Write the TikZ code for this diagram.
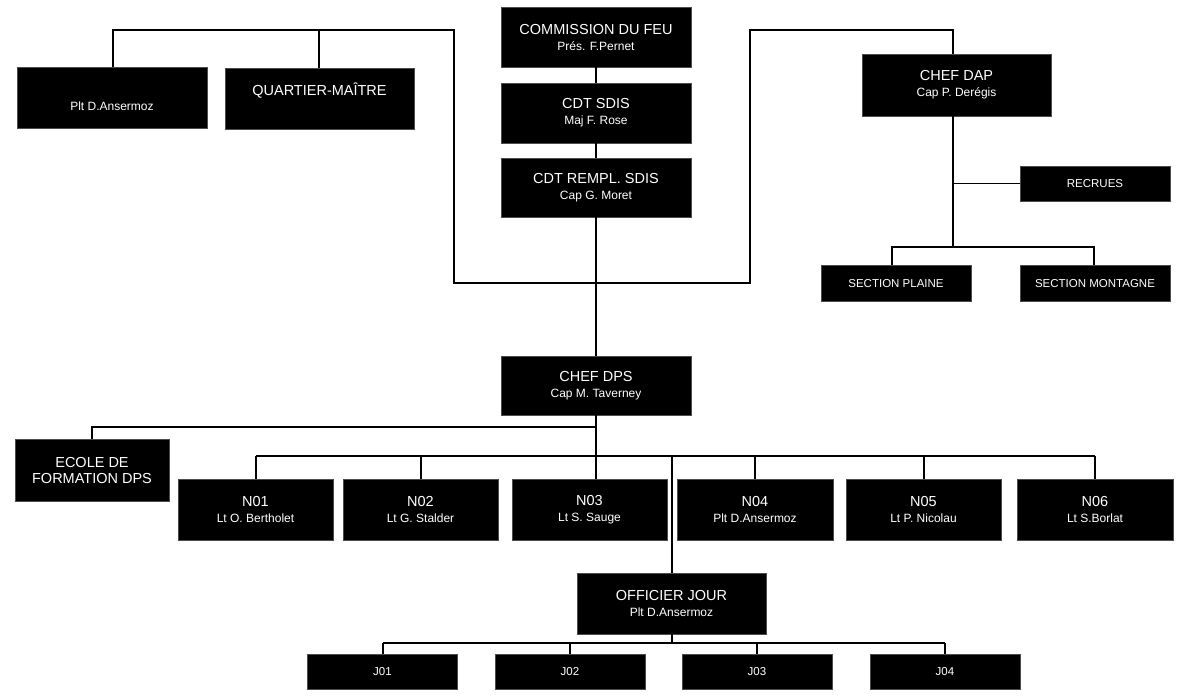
\documentclass[tikz,border=0pt]{standalone}
\usepackage{fontspec}
\setmainfont{Liberation Sans}
\newcommand\fa{\fontsize{14.5}{16}\selectfont}
\newcommand\fb{\fontsize{12}{16}\selectfont}
\newcommand\fc{\fontsize{11.5}{14}\selectfont}
\tikzset{
  bx/.style={fill=black, draw=black!70, line width=0.4pt, text=white, inner sep=0pt, align=center, font=\fb},
  bigbox/.style={bx, minimum width=190pt, minimum height=60pt},
  nbox/.style={bx, minimum width=155pt, minimum height=60pt},
  smallbox/.style={bx, minimum width=150pt, minimum height=35pt, font=\fc},
  ln/.style={draw=black, line width=1.9pt}
}
\begin{document}
\begin{tikzpicture}[x=1pt,y=-1pt]
\useasboundingbox (0,0) rectangle (1191,699);
% top
\node[bigbox, minimum height=61pt] (pa) at (112,97.5) {\fa\phantom{P}\\\fb Plt D.Ansermoz};
\node[bigbox, minimum width=189pt, minimum height=61pt] (qm) at (319.5,98.5) {\fa QUARTIER-MAÎTRE\\\fb\phantom{Pg}};
\node[bigbox] (cf) at (596,37) {\fa COMMISSION DU FEU\\\fb Prés. F.Pernet};
\node[bigbox] (sdis) at (596,113) {\fa CDT SDIS\\\fb Maj F. Rose};
\node[bigbox, minimum height=59pt] (rempl) at (596,187.5) {\fa CDT REMPL. SDIS\\\fb Cap G. Moret};
\node[bigbox, minimum width=189pt, minimum height=62pt] (dap) at (956.5,85) {\fa CHEF DAP\\\fb Cap P. Derégis};
\node[smallbox] (recrues) at (1095,183.5) {RECRUES};
\node[smallbox, minimum height=36pt] (splaine) at (896,283.5) {SECTION PLAINE};
\node[smallbox, minimum height=36pt] (smont) at (1095,283.5) {SECTION MONTAGNE};
% DPS
\node[bigbox, minimum height=59pt] (dps) at (596,385.5) {\fa CHEF DPS\\\fb Cap M. Taverney};
\node[bx, minimum width=154pt, minimum height=62pt, font=\fa, text depth=0pt] (ecole) at (92,470) {\fontsize{14.5}{18}\selectfont ECOLE DE\\FORMATION DPS};
\node[nbox, minimum height=61pt] (n1) at (255.5,509.5) {\fa N01\\\fb Lt O. Bertholet};
\node[nbox, minimum height=61pt] (n2) at (420.5,509.5) {\fa N02\\\fb Lt G. Stalder};
\node[nbox, minimum height=61pt] (n3) at (589.5,509.5) {\fa N03\\\fb Lt S. Sauge};
\node[nbox, minimum width=156pt, minimum height=61pt] (n4) at (755,509.5) {\fa N04\\\fb Plt D.Ansermoz};
\node[nbox, minimum height=61pt] (n5) at (923.5,509.5) {\fa N05\\\fb Lt P. Nicolau};
\node[nbox, minimum width=156pt, minimum height=61pt] (n6) at (1095,509.5) {\fa N06\\\fb Lt S.Borlat};
% officier
\node[bigbox, minimum width=189pt, minimum height=61pt] (oj) at (671.5,603.5) {\fa OFFICIER JOUR\\\fb Plt D.Ansermoz};
\node[smallbox] (j1) at (382.5,671.5) {J01};
\node[smallbox] (j2) at (570,671.5) {J02};
\node[smallbox] (j3) at (757,671.5) {J03};
\node[smallbox] (j4) at (945,671.5) {J04};
% coordinates
\coordinate (t1) at (454,30);
\coordinate (tl) at (113,30);
\coordinate (lb) at (454,283);
\coordinate (rb) at (750,283);
\coordinate (rt) at (750,30);
\coordinate (dt) at (953,30);
\coordinate (dr) at (953,183.5);
\coordinate (db) at (953,247);
\coordinate (sl) at (892,247);
\coordinate (sr) at (1094,247);
\coordinate (h1) at (596,427);
\coordinate (e1) at (92,427);
\coordinate (h2) at (596,456);
\coordinate (nl) at (256,456);
\coordinate (nr) at (1095,456);
\coordinate (oc) at (672,456);
\coordinate (jc) at (672,643);
\coordinate (jl) at (383,643);
\coordinate (jr) at (945,643);
% connectors
\draw[ln] (pa.north -| tl) -- (tl) -- (t1) -- (lb) -- (rb) -- (rt) -- (dt) -- (dap.north -| dt);
\draw[ln] (qm.north -| 319,0) -- (319,30);
\draw[ln] (cf.south) -- (sdis.north);
\draw[ln] (sdis.south) -- (rempl.north);
\draw[ln] (rempl.south) -- (dps.north);
\draw[ln] (dap.south -| dt) -- (db);
\draw[ln] (dr) -- (recrues.west);
\draw[ln] (splaine.north -| sl) -- (sl) -- (sr) -- (smont.north -| sr);
\draw[ln] (dps.south) -- (h2);
\draw[ln] (ecole.north -| e1) -- (e1) -- (h1);
\draw[ln] (nl) -- (nr);
\draw[ln] (n1.north -| nl) -- (nl);
\draw[ln] (n2.north -| 421,0) -- (421,456);
\draw[ln] (n3.north -| h2) -- (h2);
\draw[ln] (n4.north) -- (n4.north |- h2);
\draw[ln] (n5.north -| 924,0) -- (924,456);
\draw[ln] (n6.north -| nr) -- (nr);
\draw[ln] (oc) -- (oj.north -| oc);
\draw[ln] (oj.south -| jc) -- (jc);
\draw[ln] (jl) -- (jr);
\draw[ln] (j1.north -| jl) -- (jl);
\draw[ln] (j2.north) -- (j2.north |- jc);
\draw[ln] (j3.north) -- (j3.north |- jc);
\draw[ln] (j4.north -| jr) -- (jr);
\end{tikzpicture}
\end{document}
